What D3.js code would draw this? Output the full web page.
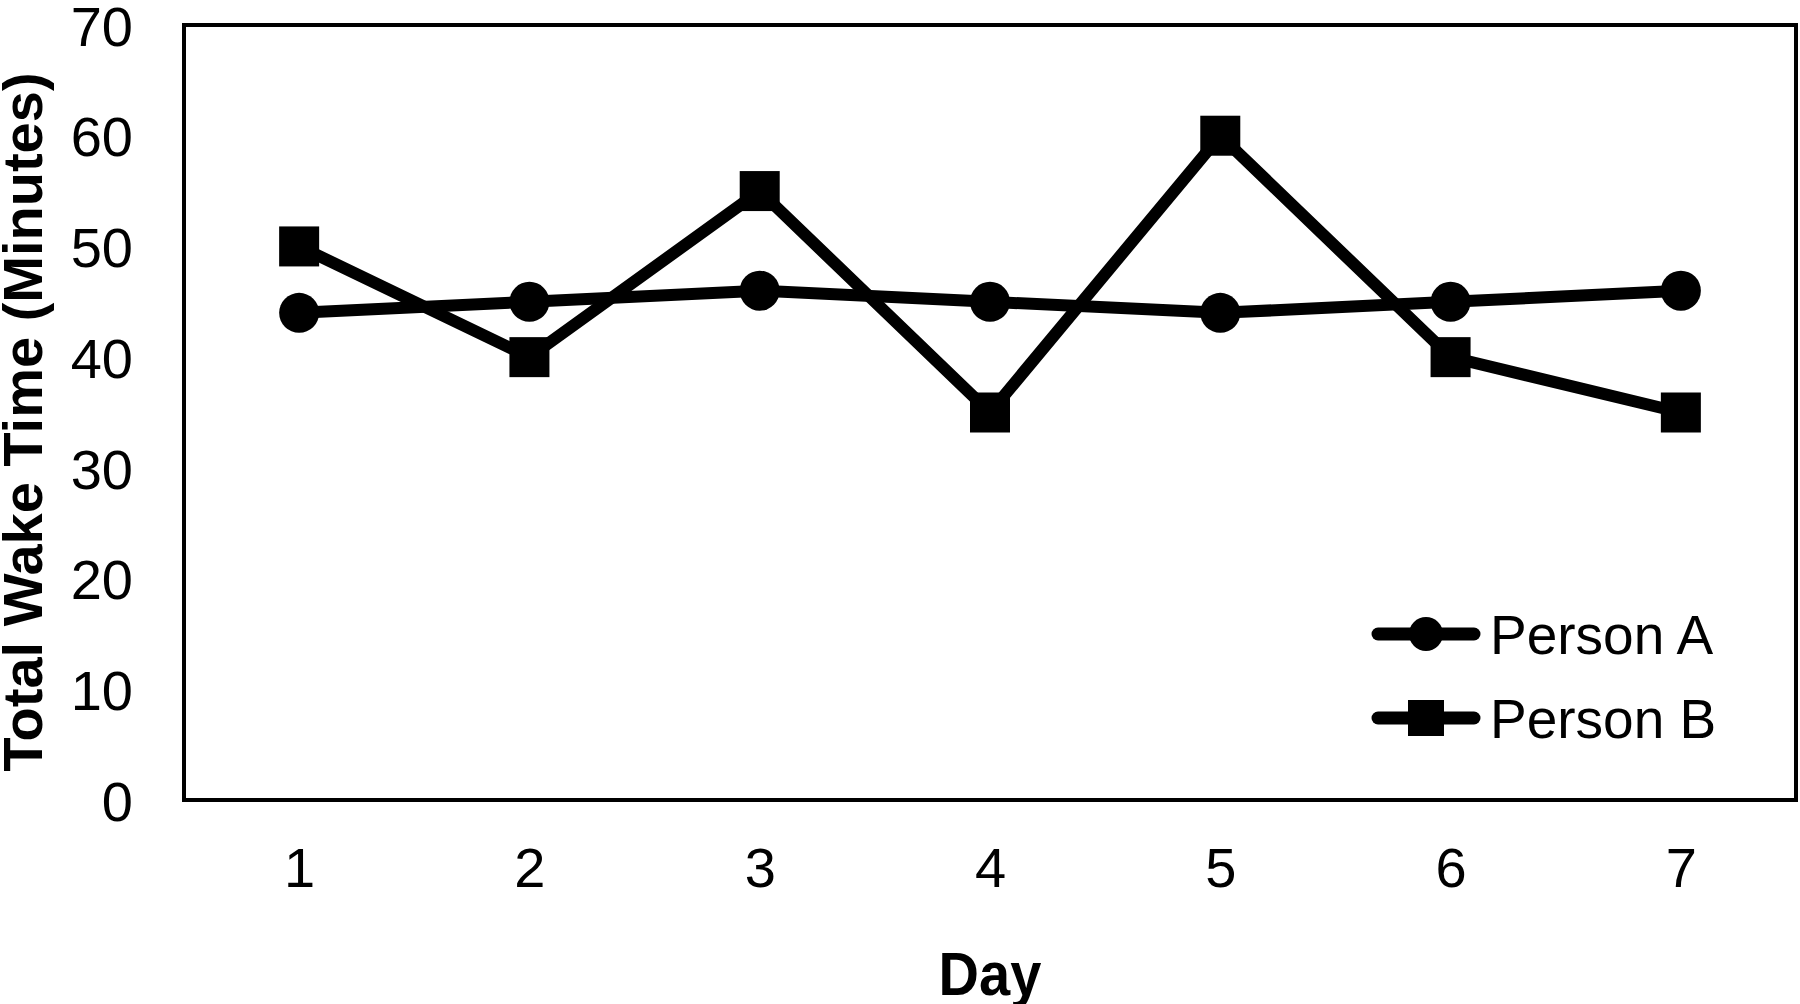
<!DOCTYPE html>
<html>
<head>
<meta charset="utf-8">
<script src="https://cdn.jsdelivr.net/npm/d3@7"></script>
<style>
  html, body { margin: 0; padding: 0; background: #fff; }
  svg { display: block; }
  text { font-family: "Liberation Sans", Arial, sans-serif; fill: #000; }
</style>
</head>
<body>
<svg id="chart" width="1800" height="1004"></svg>
<script>
const days = [1, 2, 3, 4, 5, 6, 7];
const personA = [44, 45, 46, 45, 44, 45, 46];
const personB = [50, 40, 55, 35, 60, 40, 35];
const yTicks = [0, 10, 20, 30, 40, 50, 60, 70];
const seriesNames = ["Person A", "Person B"];

const svg = d3.select("#chart");
const plot = { left: 184, right: 1796, top: 25, bottom: 800 };

const x = d3.scalePoint().domain(days).range([plot.left, plot.right]).padding(0.5);
const y = d3.scaleLinear().domain([0, 70]).range([plot.bottom, plot.top]);

// plot frame
svg.append("rect")
  .attr("x", plot.left).attr("y", plot.top)
  .attr("width", plot.right - plot.left).attr("height", plot.bottom - plot.top)
  .attr("fill", "none").attr("stroke", "#000").attr("stroke-width", 4);

// y axis labels
const yAxis = d3.axisLeft(y).tickValues(yTicks).tickSize(0).tickPadding(51);
const gy = svg.append("g").attr("transform", `translate(${plot.left},0)`).call(yAxis);
gy.select(".domain").remove();
gy.selectAll("text").attr("font-size", 56).attr("font-family", "'Liberation Sans', Arial, sans-serif").attr("fill", "#000").attr("dy", "0.36em");

// x axis labels
const xAxis = d3.axisBottom(x).tickSize(0).tickPadding(47);
const gx = svg.append("g").attr("transform", `translate(0,${plot.bottom})`).call(xAxis);
gx.select(".domain").remove();
gx.selectAll("text").attr("font-size", 56).attr("font-family", "'Liberation Sans', Arial, sans-serif").attr("fill", "#000").attr("dy", "0.71em");

// axis titles
svg.append("text")
  .attr("x", (plot.left + plot.right) / 2).attr("y", 995)
  .attr("text-anchor", "middle").attr("font-size", 56).attr("font-weight", "bold")
  .attr("transform", `translate(0,${995 - 995 * 1.1}) scale(1,1.1)`)
  .text("Day");

svg.append("text")
  .attr("transform", `translate(42,422) rotate(-90)`)
  .attr("text-anchor", "middle").attr("font-size", 56).attr("font-weight", "bold")
  .text("Total Wake Time (Minutes)");

const line = d3.line().x((d, i) => x(days[i])).y(d => y(d));

// lines
[personA, personB].forEach(series => {
  svg.append("path").datum(series)
    .attr("d", line).attr("fill", "none").attr("stroke", "#000")
    .attr("stroke-width", 12).attr("stroke-linejoin", "miter");
});

// markers
svg.append("g").selectAll("circle").data(personA).join("circle")
  .attr("cx", (d, i) => x(days[i])).attr("cy", d => y(d)).attr("r", 20).attr("fill", "#000");

svg.append("g").selectAll("rect").data(personB).join("rect")
  .attr("x", (d, i) => x(days[i]) - 20).attr("y", d => y(d) - 20)
  .attr("width", 40).attr("height", 40).attr("fill", "#000");

// legend
const legend = svg.append("g");
const legendY = [634, 718];
seriesNames.forEach((name, i) => {
  const g = legend.append("g").attr("transform", `translate(0,${legendY[i]})`);
  g.append("line").attr("x1", 1378).attr("x2", 1474).attr("y1", 0).attr("y2", 0)
    .attr("stroke", "#000").attr("stroke-width", 13).attr("stroke-linecap", "round");
  if (i === 0) {
    g.append("circle").attr("cx", 1426).attr("cy", 0).attr("r", 17).attr("fill", "#000");
  } else {
    g.append("rect").attr("x", 1408).attr("y", -18).attr("width", 36).attr("height", 36).attr("fill", "#000");
  }
  g.append("text").attr("x", 1490).attr("y", 0).attr("dy", "0.36em")
    .attr("font-size", 55).text(name);
});
</script>
</body>
</html>
